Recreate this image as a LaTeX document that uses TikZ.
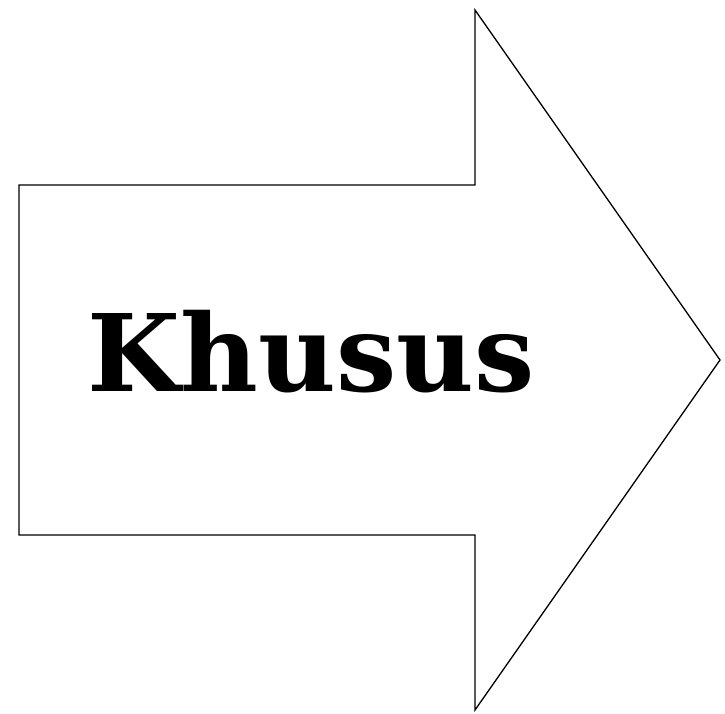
\documentclass[tikz,border=0pt]{standalone}
\usepackage{fontspec}
\setmainfont{DejaVu Serif}
\begin{document}
\begin{tikzpicture}[x=1pt,y=1pt,
  arrowshape/.style={draw=black,line width=1.3pt,fill=white,line join=miter},
  label/.style={font=\fontsize{107}{120}\selectfont\bfseries,inner sep=0pt,anchor=base}]
\useasboundingbox (0,0) rectangle (725,713);
\draw[arrowshape] (19,528) -- (475,528) -- (475,703) -- (720,353) -- (475,3) -- (475,178) -- (19,178) -- cycle;
\node[label] (t) at (311,322) {Khusus};
\end{tikzpicture}
\end{document}
